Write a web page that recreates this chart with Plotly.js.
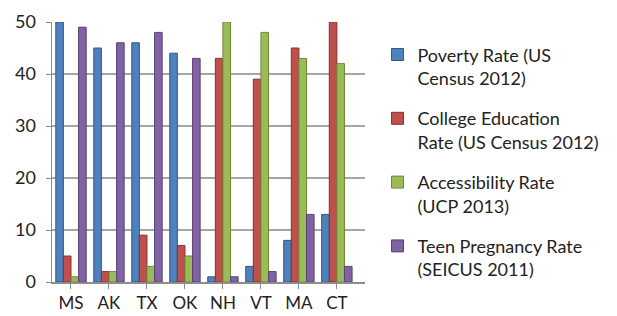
<!DOCTYPE html>
<html>
<head>
<meta charset="utf-8">
<script src="https://cdn.plot.ly/plotly-3.0.1.min.js"></script>
<style>html,body{margin:0;padding:0;background:#fff;}#chart{width:617px;height:316px;}</style>
</head>
<body>
<div id="chart"></div>
<script>
var states = ["MS", "AK", "TX", "OK", "NH", "VT", "MA", "CT"];
var seriesNames = [
  "Poverty Rate (US<br>Census 2012)",
  "College Education<br>Rate (US Census 2012)",
  "Accessibility Rate<br>(UCP 2013)",
  "Teen Pregnancy Rate<br>(SEICUS 2011)"
];
var povertyRate   = [50, 45, 46, 44, 1, 3, 8, 13];
var collegeRate   = [5, 2, 9, 7, 43, 39, 45, 50];
var accessRate    = [1, 2, 3, 5, 50, 48, 43, 42];
var teenPregRate  = [49, 46, 48, 43, 1, 2, 13, 3];
var yTicks = [0, 10, 20, 30, 40, 50];

var colors = ["#4F81BD", "#C0504D", "#9BBB59", "#8064A2"];
var edges  = ["#2C5A8F", "#8E2D2A", "#6E8A35", "#5A417A"];
var allSeries = [povertyRate, collegeRate, accessRate, teenPregRate];

var xIdx = states.map(function (_, i) { return i; });
var traces = allSeries.map(function (vals, k) {
  return {
    type: "bar",
    x: xIdx,
    y: vals,
    name: seriesNames[k],
    legendgroup: "g" + k,
    marker: { color: colors[k], line: { color: edges[k], width: 1 } },
    hoverinfo: "y"
  };
});

var layout = {
  width: 617,
  height: 316,
  margin: { l: 52, r: 232, t: 22, b: 34 },
  paper_bgcolor: "#ffffff",
  plot_bgcolor: "#ffffff",
  barmode: "group",
  bargap: 0.2,
  bargroupgap: 0,
  font: { family: "Lato, 'Open Sans', sans-serif", color: "#222222" },
  xaxis: {
    range: [-0.5, 7.74],
    tickmode: "array",
    tickvals: xIdx,
    ticktext: states,
    tickson: "boundaries",
    ticks: "outside",
    ticklen: 5,
    tickcolor: "#8c8c8c",
    showline: true,
    linecolor: "#8c8c8c",
    linewidth: 1.5,
    showgrid: false,
    zeroline: false,
    tickfont: { size: 17, color: "#222222" },
    fixedrange: true
  },
  yaxis: {
    range: [0, 50],
    tickmode: "array",
    tickvals: yTicks,
    ticks: "outside",
    ticklen: 5,
    tickcolor: "#8c8c8c",
    showline: true,
    linecolor: "#8c8c8c",
    linewidth: 1.5,
    showgrid: true,
    gridcolor: "#a6a6a6",
    gridwidth: 1.5,
    zeroline: false,
    tickfont: { size: 18, color: "#222222" },
    ticklabelstandoff: 6,
    fixedrange: true
  },
  showlegend: true,
  legend: {
    x: 1.04,
    xanchor: "left",
    y: 0.945,
    yanchor: "top",
    traceorder: "grouped",
    tracegroupgap: 14,
    itemwidth: 30,
    valign: "top",
    font: { size: 18, color: "#222222", family: "Lato, 'Open Sans', sans-serif" },
    bgcolor: "rgba(0,0,0,0)"
  }
};

Plotly.newPlot("chart", traces, layout, { displayModeBar: false, staticPlot: true });
</script>
</body>
</html>
